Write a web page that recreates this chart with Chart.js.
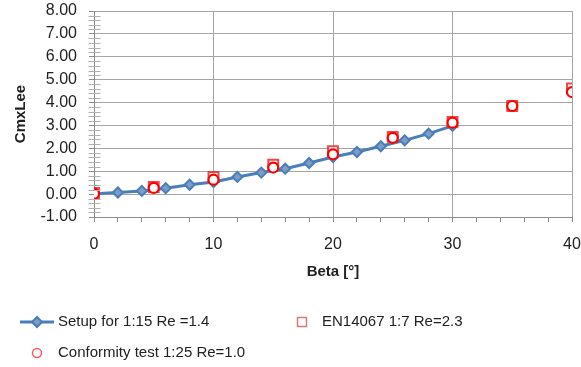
<!DOCTYPE html>
<html><head><meta charset="utf-8">
<script src="https://cdn.jsdelivr.net/npm/chart.js@4.4.0/dist/chart.umd.min.js"></script>
<style>html,body{margin:0;padding:0;background:#fff;}#wrap{position:relative;width:581px;height:367px;}</style>
</head><body><div id="wrap"><canvas id="c" width="581" height="367"></canvas></div>
<script>
// ---- data ----
const setupBeta = [0, 2, 4, 6, 8, 10, 12, 14, 16, 18, 20, 22, 24, 26, 28, 30];
const setupCmx  = [0.02, 0.07, 0.14, 0.26, 0.41, 0.53, 0.75, 0.94, 1.11, 1.36, 1.62, 1.84, 2.09, 2.35, 2.64, 2.98];
const enBeta    = [0, 5, 10, 15, 20, 25, 30, 35, 40];
const enCmx     = [0.05, 0.31, 0.75, 1.28, 1.88, 2.50, 3.15, 3.85, 4.62];
const confBeta  = [0, 5, 10, 15, 20, 25, 30, 35, 40];
const confCmx   = [0.02, 0.27, 0.63, 1.16, 1.74, 2.46, 3.12, 3.85, 4.46];
const seriesNames = ['Setup for 1:15 Re =1.4', 'EN14067 1:7 Re=2.3', 'Conformity test 1:25 Re=1.0'];
const xTitle = 'Beta [°]';
const yTitle = 'CmxLee';
const xRange = [0, 40];
const yRange = [-1, 8];

const toPts = (xs, ys) => xs.map((x, i) => ({x: x, y: ys[i]}));
const FONT = '"Liberation Sans", Arial, sans-serif';
const TXT = '#222222';
const GRID = '#a6a6a6';
const AXIS = '#8c8c8c';
const BLUE = '#4a7ebb';

const minorTicks = {
  id: 'minorTicks',
  afterDraw(chart) {
    const ctx = chart.ctx, y = chart.scales.y, x = chart.scales.x;
    const ax = Math.round(x.getPixelForValue(xRange[0])) + 0.5;
    ctx.save();
    ctx.strokeStyle = '#b0b0b0';
    ctx.lineWidth = 1;
    for (let k = yRange[0] * 5; k <= yRange[1] * 5; k++) {
      if (k % 5 === 0) continue;
      const py = Math.round(y.getPixelForValue(k / 5)) + 0.5;
      ctx.beginPath(); ctx.moveTo(ax - 6, py); ctx.lineTo(ax + 6, py); ctx.stroke();
    }
    ctx.restore();
  }
};

const customLegend = {
  id: 'customLegend',
  afterDraw(chart) {
    const ctx = chart.ctx;
    ctx.save();
    ctx.font = '15px ' + FONT;
    ctx.fillStyle = TXT;
    ctx.textBaseline = 'middle';
    ctx.textAlign = 'left';
    let cy = 322;
    ctx.strokeStyle = BLUE; ctx.lineWidth = 3;
    ctx.beginPath(); ctx.moveTo(20, cy); ctx.lineTo(54, cy); ctx.stroke();
    ctx.fillStyle = '#7f9cc2'; ctx.strokeStyle = BLUE; ctx.lineWidth = 2;
    ctx.beginPath(); ctx.moveTo(37, cy - 5); ctx.lineTo(42, cy); ctx.lineTo(37, cy + 5); ctx.lineTo(32, cy); ctx.closePath();
    ctx.fill(); ctx.stroke();
    ctx.fillStyle = TXT;
    ctx.fillText(seriesNames[0], 58, cy);
    ctx.strokeStyle = '#d9787a'; ctx.lineWidth = 1.5;
    ctx.strokeRect(297.5, cy - 4.5, 9, 9);
    ctx.fillText(seriesNames[1], 322, cy);
    cy = 353;
    ctx.strokeStyle = '#ff5a5a'; ctx.lineWidth = 1.5;
    ctx.beginPath(); ctx.arc(37, cy, 4.5, 0, Math.PI * 2); ctx.stroke();
    ctx.fillText(seriesNames[2], 58, cy);
    ctx.restore();
  }
};

new Chart(document.getElementById('c'), {
  type: 'scatter',
  data: {
    datasets: [
      {
        label: seriesNames[0], data: toPts(setupBeta, setupCmx), showLine: true,
        borderColor: BLUE, borderWidth: 3, tension: 0,
        pointStyle: 'rectRot', pointRadius: 5, pointBorderWidth: 2,
        pointBackgroundColor: '#7f9cc2', pointBorderColor: BLUE, order: 3
      },
      {
        label: seriesNames[1], data: toPts(enBeta, enCmx), showLine: false,
        pointStyle: 'rect', pointRadius: 7, pointBorderWidth: 2,
        pointBackgroundColor: 'rgba(255,255,255,0.6)', pointBorderColor: 'rgba(235,40,40,0.85)', order: 2
      },
      {
        label: seriesNames[2], data: toPts(confBeta, confCmx), showLine: false,
        pointStyle: 'circle', pointRadius: 5, pointBorderWidth: 2.2,
        pointBackgroundColor: '#ffffff', pointBorderColor: '#ff0000', order: 1
      }
    ]
  },
  options: {
    responsive: false, animation: false, devicePixelRatio: 1,
    layout: {padding: {left: 0, right: 9, top: 11, bottom: 80}},
    plugins: {legend: {display: false}, tooltip: {enabled: false}},
    scales: {
      x: {
        type: 'linear', min: xRange[0], max: xRange[1],
        afterFit(s) { s.height = 70; s.paddingLeft = 0; s.paddingRight = 0; },
        ticks: {
          stepSize: 2, autoSkip: false, maxRotation: 0, padding: 13,
          color: TXT, font: {family: FONT, size: 16},
          callback: v => (v % 10 === 0 ? String(v) : '')
        },
        grid: {
          color: c => (c.tick && c.tick.value % 10 === 0 ? GRID : 'rgba(0,0,0,0)'),
          tickColor: AXIS, tickLength: 5, drawTicks: true
        },
        border: {display: true, color: AXIS, width: 1},
        title: {display: true, text: xTitle, color: TXT, font: {family: FONT, size: 15, weight: 'bold'}, padding: {top: 0, bottom: 6}}
      },
      y: {
        type: 'linear', min: yRange[0], max: yRange[1],
        afterFit(s) { s.width = 94; s.paddingTop = 0; s.paddingBottom = 0; },
        ticks: {
          stepSize: 1, autoSkip: false, padding: 12, color: TXT, font: {family: FONT, size: 16},
          callback: v => Number(v).toFixed(2)
        },
        grid: {color: GRID, tickColor: AXIS, tickLength: 5, drawTicks: true},
        border: {display: true, color: AXIS, width: 1},
        title: {display: true, text: yTitle, color: TXT, font: {family: FONT, size: 15, weight: 'bold'}, padding: {top: 11.5, bottom: 0}}
      }
    }
  },
  plugins: [minorTicks, customLegend]
});
</script></body></html>
